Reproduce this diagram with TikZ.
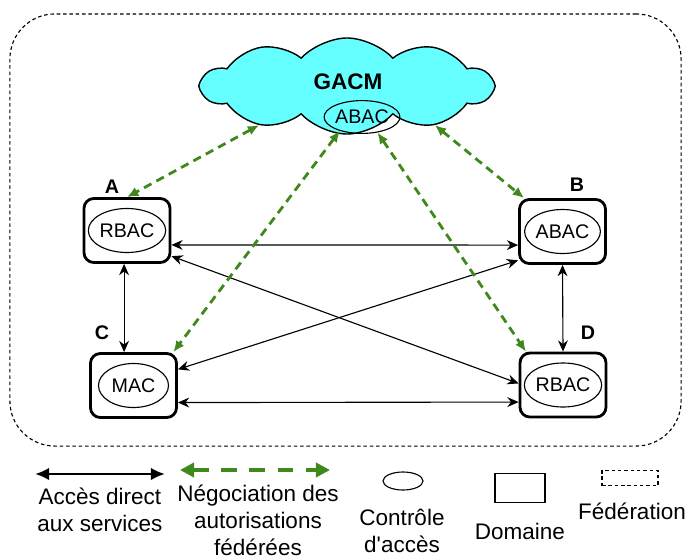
\documentclass[tikz,border=0pt]{standalone}
\usepackage{fontspec}
\setmainfont{Liberation Sans}
\usetikzlibrary{positioning,arrows.meta,shapes.geometric,shapes.symbols}
\definecolor{cloudcyan}{RGB}{102,255,255}
\definecolor{negogreen}{RGB}{64,136,28}

\begin{document}
\begin{tikzpicture}[
  x=0.025cm, y=-0.025cm,
  font=\fontsize{14}{16}\selectfont,
  dom/.style={draw, line width=2pt, rounded corners=7pt,
              minimum width=2.15cm, minimum height=1.6cm},
  ctrl/.style={draw, ellipse, line width=0.8pt, inner sep=0pt,
               minimum width=1.75cm, minimum height=1.1cm},
  tag/.style={font=\fontsize{14}{16}\selectfont\bfseries},
  direct/.style={{Stealth[length=8pt,width=7pt]}-{Stealth[length=8pt,width=7pt]}, line width=0.8pt},
  nego/.style={{Latex[length=8pt,width=7pt]}-{Latex[length=8pt,width=7pt]},
               draw=negogreen, line width=2pt, dash pattern=on 6pt off 4pt},
  fed/.style={draw, line width=0.8pt, dash pattern=on 2.5pt off 2pt},
  legtxt/.style={align=center, font=\fontsize{16}{19.2}\selectfont}
]
\useasboundingbox (0,0) rectangle (689,559);

% federation
\node[fed, rounded corners=32pt, minimum width=16.775cm, minimum height=10.8cm] (fedbox) at (345.5,230) {};

% GACM
\node[cloud, draw, line width=1pt, fill=cloudcyan, cloud puffs=10, cloud puff arc=95,
      aspect=3, minimum width=7.25cm, minimum height=2.4cm] (gacm) at (347,86) {};
\node[font=\fontsize{16}{18}\selectfont\bfseries] (gacmname) at (348,82) {GACM};
\node[ctrl, minimum width=1.72cm, minimum height=0.82cm] (abac) at (362,117) {ABAC};

% domains
\node[dom] (A) at (127,230.5) {};
\node[dom] (B) at (562.5,231.5) {};
\node[dom] (C) at (133.5,385.5) {};
\node[dom] (D) at (563,385) {};
\node[ctrl] (ctrlA) at (A) {RBAC};
\node[ctrl] (ctrlB) at (B) {ABAC};
\node[ctrl] (ctrlC) at (C) {MAC};
\node[ctrl] (ctrlD) at (D) {RBAC};
\node[tag] (tagA) at (112,187) {A};
\node[tag] (tagB) at (577,185) {B};
\node[tag] (tagC) at (102,333) {C};
\node[tag] (tagD) at (588,333) {D};

\draw[direct] (A.-18) -- (B.197);
\draw[direct] (A.-30) -- (D.178);
\draw[direct] (C.20) -- (B.213);
\draw[direct] (C.-21) -- (D.201);
\draw[direct] (A.265) -- (A.265 |- C.north);
\draw[direct] (B.south) -- (D.north);

\draw[nego] (gacm.204) -- (A.north);
\draw[nego] (abac.212) -- (C.40);
\draw[nego] (abac.315) -- (D.138);
\draw[nego] (gacm.336) -- (B.139);

% legend
\coordinate (k1l) at (35,474);
\coordinate (k1r) at (165,474);
\draw[{Latex[length=10pt,width=9pt]}-{Latex[length=10pt,width=9pt]}, line width=2pt] (k1l) -- (k1r);
\node[legtxt] (k1txt) at (100,510) {Accès direct\\aux services};

\coordinate (k2l) at (180,470);
\coordinate (k2r) at (330,470);
\draw[{Triangle[length=10pt,width=10pt]}-{Triangle[length=10pt,width=10pt]}, draw=negogreen,
      line width=2.5pt, dash pattern=on 11pt off 9pt] (k2l) -- (k2r);
\node[legtxt] (k2txt) at (258,520) {Négociation des\\autorisations\\fédérées};

\node[draw, ellipse, line width=0.8pt, minimum width=1cm, minimum height=0.45cm] (k3) at (403,481) {};
\node[legtxt] (k3txt) at (402,531) {Contrôle\\d\textquotesingle accès};

\node[draw, line width=0.8pt, minimum width=1.25cm, minimum height=0.72cm] (k4) at (520,488) {};
\node[legtxt] (k4txt) at (520,531) {Domaine};

\node[fed, minimum width=1.4cm, minimum height=0.375cm] (k5) at (630,478) {};
\node[legtxt] (k5txt) at (632,511) {Fédération};
\end{tikzpicture}
\end{document}
